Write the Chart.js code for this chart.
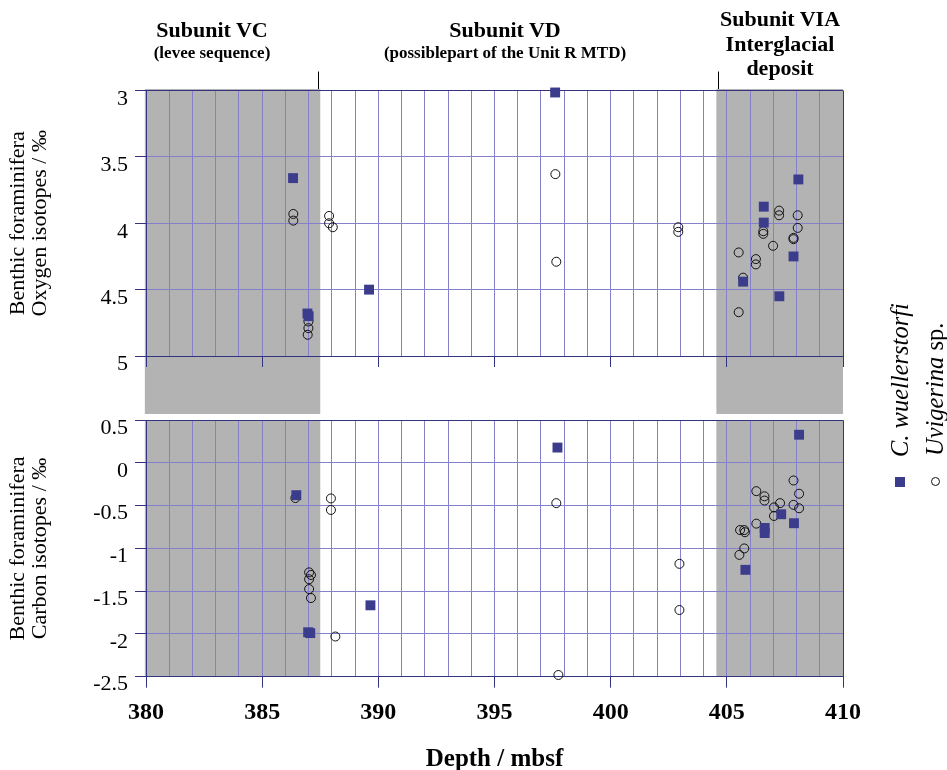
<!DOCTYPE html>
<html>
<head>
<meta charset="utf-8">
<title>Benthic foraminifera stable isotopes vs depth</title>
<script src="https://cdn.jsdelivr.net/npm/chart.js@4/dist/chart.umd.min.js"></script>
<style>
  html, body { margin: 0; padding: 0; background: #fff; }
  #page { position: relative; width: 947px; height: 770px; overflow: hidden;
          font-family: "Liberation Serif", "Times New Roman", serif; color: #000; }
  .pane { position: absolute; left: 0; width: 947px; }
  .hdr { position: absolute; transform: translateX(-50%); text-align: center;
         font-weight: bold; white-space: nowrap; }
  .hdr .big { font-size: 22px; line-height: 24.5px; }
  .hdr .small { font-size: 17px; line-height: 20px; }
  .leg { position: absolute; transform-origin: 0 0; transform: rotate(-90deg);
         height: 26px; line-height: 26px; white-space: nowrap; font-size: 24.5px;
         display: flex; align-items: center; }
  .leg .sq { display: inline-block; width: 10px; height: 10px; background: #3c3c8c;
             margin-left: 1px; margin-right: 20px; }
  .leg .ci { display: inline-block; width: 7px; height: 7px; border: 1px solid #111;
             border-radius: 50%; margin-left: 2px; margin-right: 21px; }
</style>
</head>
<body>
<div id="page">
  <div class="pane" style="top:0;height:414px"><canvas id="oxygen"></canvas></div>
  <div class="pane" style="top:400px;height:370px"><canvas id="carbon"></canvas></div>

  <div class="hdr" style="left:212px;top:18px">
    <div class="big">Subunit VC</div>
    <div class="small">(levee sequence)</div>
  </div>
  <div class="hdr" style="left:505px;top:18px">
    <div class="big">Subunit VD</div>
    <div class="small">(possiblepart of the Unit R MTD)</div>
  </div>
  <div class="hdr" style="left:780px;top:7px">
    <div class="big">Subunit VIA</div>
    <div class="big">Interglacial</div>
    <div class="big">deposit</div>
  </div>

  <div class="leg" style="left:887px;top:488px"><span class="sq"></span><i>C. wuellerstorfi</i></div>
  <div class="leg" style="left:922px;top:488px"><span class="ci"></span><span><i>Uvigerina</i> sp.</span></div>
</div>

<script>
// ---- Oxygen isotopes (δ18O, ‰) against depth (mbsf) ----
const depthO_Cw = [386.33, 386.95, 387.0, 389.6, 397.61, 408.08, 406.59, 406.59, 407.87, 405.70, 407.26];
const d18O_Cw   = [3.66, 4.68, 4.70, 4.50, 3.015, 3.67, 3.875, 3.995, 4.25, 4.44, 4.55];

const depthO_Uv = [386.34, 386.34, 387.88, 387.88, 388.04, 386.99, 386.99, 386.96, 397.62, 397.66,
                   402.91, 402.91, 407.25, 407.25, 408.05, 408.05, 406.57, 406.57, 407.87, 407.87,
                   406.99, 405.51, 406.25, 406.25, 405.70, 405.51];
const d18O_Uv   = [3.93, 3.98, 3.945, 4.00, 4.03, 4.74, 4.79, 4.84, 3.63, 4.29,
                   4.03, 4.065, 3.905, 3.94, 3.94, 4.035, 4.06, 4.08, 4.11, 4.12,
                   4.17, 4.22, 4.27, 4.31, 4.41, 4.67];

// ---- Carbon isotopes (δ13C, ‰) against depth (mbsf) ----
const depthC_Cw = [386.47, 386.98, 387.07, 389.66, 397.71, 408.11, 406.63, 406.63, 407.34, 407.89, 405.80];
const d13C_Cw   = [-0.377, -1.98, -1.99, -1.665, 0.18, 0.33, -0.76, -0.82, -0.60, -0.705, -1.25];

const depthC_Uv = [386.43, 387.96, 387.96, 387.02, 387.10, 387.02, 387.02, 387.10, 388.15, 397.66,
                   402.96, 402.96, 397.75, 407.87, 408.11, 406.27, 406.62, 406.62, 407.29, 407.03,
                   407.87, 408.11, 407.03, 406.27, 405.57, 405.75, 405.78, 405.75, 405.54];
const d13C_Uv   = [-0.41, -0.415, -0.55, -1.28, -1.31, -1.36, -1.475, -1.58, -2.03, -0.47,
                   -1.18, -1.72, -2.48, -0.205, -0.36, -0.33, -0.39, -0.44, -0.47, -0.52,
                   -0.49, -0.53, -0.62, -0.71, -0.785, -0.785, -0.81, -1.0, -1.075];

// Depth axis and lithological subunit shading
const depthRange = [380, 410];
const shadedIntervals = [[379.95, 387.5], [404.55, 410]];
const subunitDividers = [387.4, 404.62];

const NAVY = '#333380';
const GRID = '#8580cc';
const GREY = '#b3b3b3';
const SQUARE = '#3c3c8c';
const FONT = '"Liberation Serif", "Times New Roman", serif';

function pairs(xs, ys) { return xs.map((x, i) => ({ x: x, y: ys[i] })); }

// Grey interval shading drawn underneath the grid
const shading = {
  id: 'shading',
  beforeDraw(chart, args, opts) {
    const { ctx, chartArea, scales } = chart;
    const x = scales.x;
    const top = chartArea.top - opts.extendTop;
    const bottom = opts.toCanvasBottom ? chart.height : chartArea.bottom;
    ctx.save();
    ctx.fillStyle = GREY;
    for (const [a, b] of shadedIntervals) {
      const x0 = x.getPixelForValue(a), x1 = x.getPixelForValue(b);
      ctx.fillRect(x0, top, x1 - x0, bottom - top);
    }
    if (opts.dividers) {
      ctx.strokeStyle = '#000';
      ctx.lineWidth = 1;
      for (const d of subunitDividers) {
        const px = Math.round(x.getPixelForValue(d)) + 0.5;
        ctx.beginPath();
        ctx.moveTo(px, chartArea.top - 19);
        ctx.lineTo(px, chartArea.top - 1.5);
        ctx.stroke();
      }
    }
    ctx.restore();
  }
};

function makeChart(canvasId, cfg) {
  const isTop = cfg.top;
  return new Chart(document.getElementById(canvasId), {
    type: 'scatter',
    data: {
      datasets: [
        {
          label: 'C. wuellerstorfi',
          data: cfg.cw,
          pointStyle: 'rect',
          pointRadius: 7,
          backgroundColor: SQUARE,
          borderWidth: 0,
          clip: false
        },
        {
          label: 'Uvigerina sp.',
          data: cfg.uv,
          pointStyle: 'circle',
          pointRadius: 4.5,
          backgroundColor: 'rgba(0,0,0,0)',
          borderColor: '#111',
          borderWidth: 1,
          clip: false
        }
      ]
    },
    options: {
      responsive: true,
      maintainAspectRatio: false,
      animation: false,
      events: [],
      layout: { padding: { left: 0, right: 104, top: cfg.padTop, bottom: 0 } },
      plugins: {
        legend: { display: false },
        tooltip: { enabled: false },
        shading: cfg.shading
      },
      scales: {
        x: {
          type: 'linear',
          min: depthRange[0],
          max: depthRange[1],
          afterFit: s => { s.height = cfg.xHeight; },
          border: { display: true, color: NAVY, width: 1 },
          grid: {
            color: c => (c.tick && (c.tick.value === depthRange[0] || c.tick.value === depthRange[1])) ? NAVY : GRID,
            tickColor: c => (c.tick && c.tick.value % 5 === 0) ? NAVY : 'rgba(0,0,0,0)',
            tickLength: 11,
            lineWidth: 1
          },
          ticks: {
            display: !isTop,
            stepSize: 1,
            autoSkip: false,
            maxRotation: 0,
            padding: 11,
            color: '#000',
            font: { family: FONT, size: 24, weight: 'bold' },
            callback: v => (v % 5 === 0 ? String(v) : '')
          },
          title: {
            display: !isTop,
            text: 'Depth / mbsf',
            color: '#000',
            font: { family: FONT, size: 25, weight: 'bold', lineHeight: 1.0 },
            padding: { top: 0, bottom: -2 }
          }
        },
        y: {
          type: 'linear',
          min: cfg.yMin,
          max: cfg.yMax,
          reverse: cfg.reverse,
          afterFit: s => { s.width = 146; },
          border: { display: true, color: NAVY, width: 1 },
          grid: {
            color: c => (c.tick && (c.tick.value === cfg.yMin || c.tick.value === cfg.yMax)) ? NAVY : GRID,
            tickColor: NAVY,
            tickLength: 11,
            lineWidth: 1
          },
          ticks: {
            stepSize: 0.5,
            padding: 7,
            labelOffset: cfg.labelOffset,
            color: '#000',
            font: { family: FONT, size: 22 },
            callback: v => String(Math.round(v * 10) / 10)
          },
          title: {
            display: true,
            text: cfg.yTitle,
            color: '#000',
            font: { family: FONT, size: 22, lineHeight: 1.0 },
            padding: { top: 7, bottom: 0 }
          }
        }
      }
    },
    plugins: [shading]
  });
}

makeChart('oxygen', {
  top: true,
  cw: pairs(depthO_Cw, d18O_Cw),
  uv: pairs(depthO_Uv, d18O_Uv),
  yMin: 3, yMax: 5, reverse: true,
  padTop: 90.5, xHeight: 58, labelOffset: 8.5,
  yTitle: ['Benthic foraminifera', 'Oxygen isotopes / ‰'],
  shading: { extendTop: 1.5, toCanvasBottom: true, dividers: true }
});

makeChart('carbon', {
  top: false,
  cw: pairs(depthC_Cw, d13C_Cw),
  uv: pairs(depthC_Uv, d13C_Uv),
  yMin: -2.5, yMax: 0.5, reverse: false,
  padTop: 14.3, xHeight: 93.3, labelOffset: 8,
  yTitle: ['Benthic foraminifera', 'Carbon isotopes / ‰'],
  shading: { extendTop: 0, toCanvasBottom: false, dividers: false }
});
</script>
</body>
</html>
